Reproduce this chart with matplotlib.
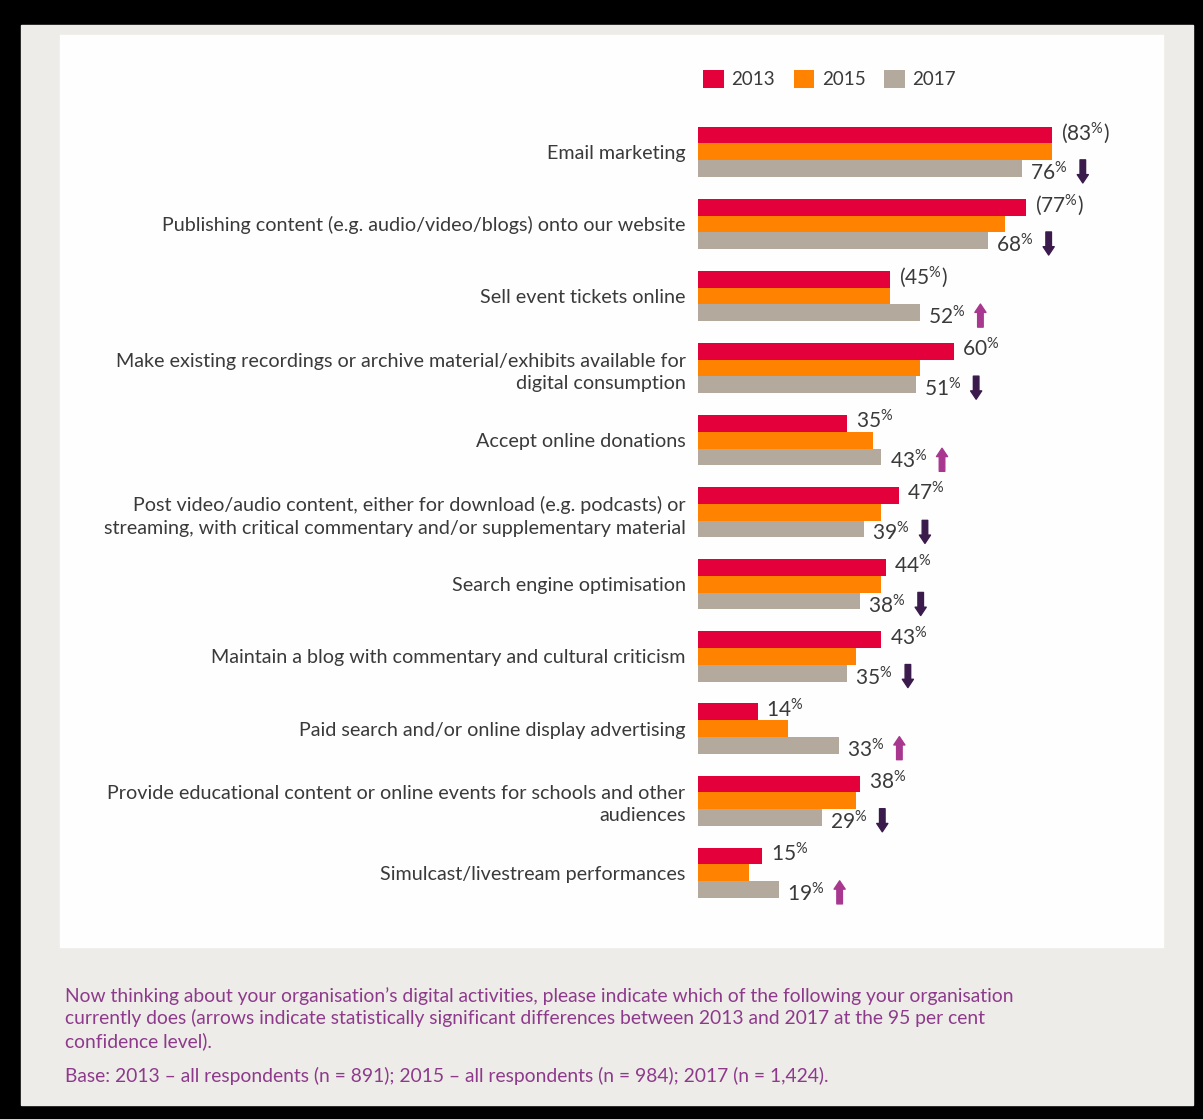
import matplotlib
matplotlib.use("Agg")
import matplotlib.pyplot as plt
from matplotlib.patches import Rectangle
import numpy as np

plt.rcParams['font.family'] = ['Lato', 'DejaVu Sans']
plt.rcParams['mathtext.fontset'] = 'custom'
plt.rcParams['mathtext.rm'] = 'Lato'
plt.rcParams['mathtext.it'] = 'Lato'

activities = [
    "Email marketing",
    "Publishing content (e.g. audio/video/blogs) onto our website",
    "Sell event tickets online",
    "Make existing recordings or archive material/exhibits available for\ndigital consumption",
    "Accept online donations",
    "Post video/audio content, either for download (e.g. podcasts) or\nstreaming, with critical commentary and/or supplementary material",
    "Search engine optimisation",
    "Maintain a blog with commentary and cultural criticism",
    "Paid search and/or online display advertising",
    "Provide educational content or online events for schools and other\naudiences",
    "Simulcast/livestream performances",
]
pct_2013 = [83, 77, 45, 60, 35, 47, 44, 43, 14, 38, 15]
pct_2015 = [83, 72, 45, 52, 41, 43, 43, 37, 21, 37, 12]
pct_2017 = [76, 68, 52, 51, 43, 39, 38, 35, 33, 29, 19]
# 2013 label in brackets where the 2015 figure is the same
bracketed = [True, True, True, False, False, False, False, False, False, False, False]
# significant change 2013 -> 2017: -1 down, +1 up
change = [-1, -1, 1, -1, 1, -1, -1, -1, 1, -1, 1]
years = ["2013", "2015", "2017"]

c13, c15, c17 = "#e4003b", "#ff8200", "#b3a99d"
c_down, c_up = "#3b1a4c", "#a8388f"
txt = "#3a3a3a"

W, H = 1203, 1119
fig = plt.figure(figsize=(W / 100, H / 100), dpi=100)
fig.patch.set_facecolor("black")

def px_rect(x0, y0, x1, y1, color):
    fig.add_artist(Rectangle((x0 / W, 1 - y1 / H), (x1 - x0) / W, (y1 - y0) / H,
                             transform=fig.transFigure, color=color, zorder=0))

px_rect(21, 25, 1193, 1105, "#edece8")
px_rect(60, 35, 1163, 947, "#fefefe")

ax = fig.add_axes([698 / W, 1 - 947 / H, 465 / W, 912 / H])
ax.set_facecolor("none")

y = np.arange(len(activities))
h = 0.232
ax.barh(y - h, pct_2013, height=h, color=c13, label=years[0])
ax.barh(y, pct_2015, height=h, color=c15, label=years[1])
ax.barh(y + h, pct_2017, height=h, color=c17, label=years[2])

ax.set_xlim(0, 109)
ax.set_ylim(11.03, -1.62)
ax.set_yticks(y, activities, fontsize=14.2, color=txt)
for t in ax.get_yticklabels():
    t.set_linespacing(1.38)
ax.tick_params(axis="y", length=0, pad=9)
ax.set_xticks([])
for s in ax.spines.values():
    s.set_visible(False)

for i in range(len(activities)):
    lab = f"{pct_2013[i]}$^{{\\%}}$"
    if bracketed[i]:
        lab = f"({pct_2013[i]}$^{{\\%}}$)"
    ax.text(pct_2013[i] + 2.0, i - h - 0.03, lab, fontsize=15, color=txt,
            va="center", ha="left")
    ax.text(pct_2017[i] + 1.9, i + h + 0.06, f"{pct_2017[i]}$^{{\\%}}$", fontsize=15,
            color=txt, va="center", ha="left")
    xa = pct_2017[i] + 14.2
    top, bot = i + h - 0.12, i + h + 0.2
    if change[i] < 0:
        start, end, col = top, bot, c_down
    else:
        start, end, col = bot, top, c_up
    ax.annotate("", xy=(xa, end), xytext=(xa, start),
                arrowprops=dict(arrowstyle="simple,head_width=0.8,head_length=0.6,tail_width=0.4",
                                color=col, shrinkA=0, shrinkB=0, mutation_scale=10))

ax.legend(ncol=3, loc="upper left", bbox_to_anchor=(-0.009, 0.972), frameon=False,
          fontsize=13.5, handlelength=1.1, handleheight=1.1, handletextpad=0.4,
          columnspacing=1.0, borderpad=0, labelcolor=txt)

note = ("Now thinking about your organisation\u2019s digital activities, please indicate which of the following your organisation\n"
        "currently does (arrows indicate statistically significant differences between 2013 and 2017 at the 95 per cent\n"
        "confidence level).")
fig.text(65 / W, 1 - 987 / H, note, fontsize=13.9, color="#8e3a8c", va="top", ha="left",
         linespacing=1.3)
fig.text(65 / W, 1 - 1076 / H,
         "Base: 2013 \u2013 all respondents (n = 891); 2015 \u2013 all respondents (n = 984); 2017 (n = 1,424).",
         fontsize=13.9, color="#8e3a8c", va="center", ha="left")

fig.savefig("out.png", dpi=100, facecolor=fig.get_facecolor())
